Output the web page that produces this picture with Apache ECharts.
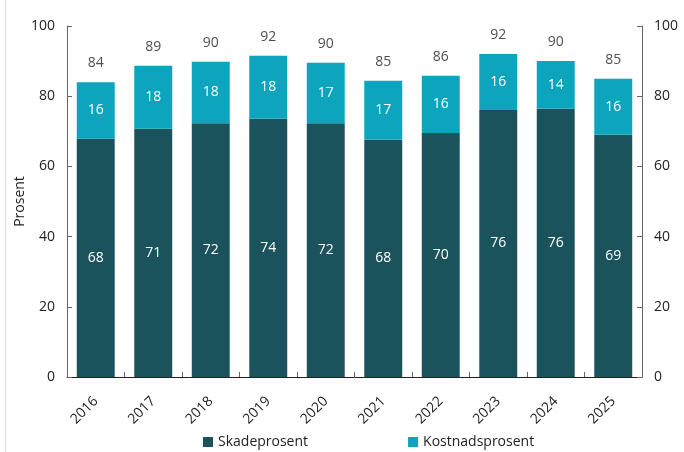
<!DOCTYPE html>
<html>
<head>
<meta charset="utf-8">
<script src="https://cdn.jsdelivr.net/npm/echarts@6/dist/echarts.min.js"></script>
<style>
  html, body { margin: 0; padding: 0; background: #fff; }
  #chart { width: 684px; height: 452px; }
</style>
</head>
<body>
<div id="chart"></div>
<script>
const years = ['2016', '2017', '2018', '2019', '2020', '2021', '2022', '2023', '2024', '2025']
const skadeprosent = [67.9, 70.7, 72.3, 73.6, 72.3, 67.6, 69.5, 76.1, 76.4, 69.0]
const kostnadsprosent = [16.1, 18.0, 17.5, 17.9, 17.2, 16.8, 16.3, 15.9, 13.6, 16.0]
const totalLabels = [84, 89, 90, 92, 90, 85, 86, 92, 90, 85]

const font = 'Open Sans'
const textColor = '#222'

const chart = echarts.init(document.getElementById('chart'))

const valueAxis = (pos) => ({
  type: 'value',
  position: pos,
  min: 0,
  max: 100,
  interval: 20,
  axisLine: { show: true, lineStyle: { color: '#666' } },
  axisTick: { show: true, inside: true, length: 5, lineStyle: { color: '#666' } },
  axisLabel: { color: textColor, fontFamily: font, fontSize: 14, margin: 12 },
  splitLine: { show: false }
})

const option = {
  animation: false,
  grid: { left: 67, right: 42, top: 26, bottom: 75 },
  legend: {
    data: ['Skadeprosent', 'Kostnadsprosent'],
    left: 198,
    bottom: -2,
    icon: 'rect',
    itemWidth: 10,
    itemHeight: 10,
    itemGap: 100,
    textStyle: { color: textColor, fontFamily: font, fontSize: 14 }
  },
  xAxis: {
    type: 'category',
    data: years,
    axisLine: { lineStyle: { color: '#222' } },
    axisTick: { show: true, inside: true, length: 5, lineStyle: { color: '#666' } },
    axisLabel: { color: textColor, fontFamily: font, fontSize: 14, rotate: 45, margin: 22 }
  },
  yAxis: [
    Object.assign(valueAxis('left'), {
      name: 'Prosent',
      nameLocation: 'middle',
      nameGap: 40,
      nameMoveOverlap: false,
      nameTextStyle: { color: textColor, fontFamily: font, fontSize: 14 }
    }),
    valueAxis('right')
  ],
  series: [
    {
      name: 'Skadeprosent',
      type: 'bar',
      stack: 'total',
      barWidth: '66%',
      data: skadeprosent,
      itemStyle: { color: '#1a535b' },
      label: {
        show: true,
        position: 'inside',
        color: '#fff',
        fontFamily: font,
        fontSize: 14,
        formatter: (p) => Math.round(p.value)
      }
    },
    {
      name: 'Kostnadsprosent',
      type: 'bar',
      stack: 'total',
      data: kostnadsprosent,
      itemStyle: { color: '#0ca5bd' },
      label: {
        show: true,
        position: 'inside',
        color: '#fff',
        fontFamily: font,
        fontSize: 14,
        formatter: (p) => Math.round(p.value)
      }
    },
    {
      name: 'Sum',
      type: 'scatter',
      symbolSize: 0,
      silent: true,
      data: skadeprosent.map((v, i) => v + kostnadsprosent[i]),
      label: {
        show: true,
        position: 'top',
        distance: 12,
        color: textColor,
        fontFamily: font,
        fontSize: 14,
        formatter: (p) => totalLabels[p.dataIndex]
      }
    }
  ],
  graphic: [
    {
      type: 'line',
      shape: { x1: 5.5, y1: 0, x2: 5.5, y2: 452 },
      style: { stroke: '#ddd', lineWidth: 1 }
    }
  ]
}

chart.setOption(option)
</script>
</body>
</html>
